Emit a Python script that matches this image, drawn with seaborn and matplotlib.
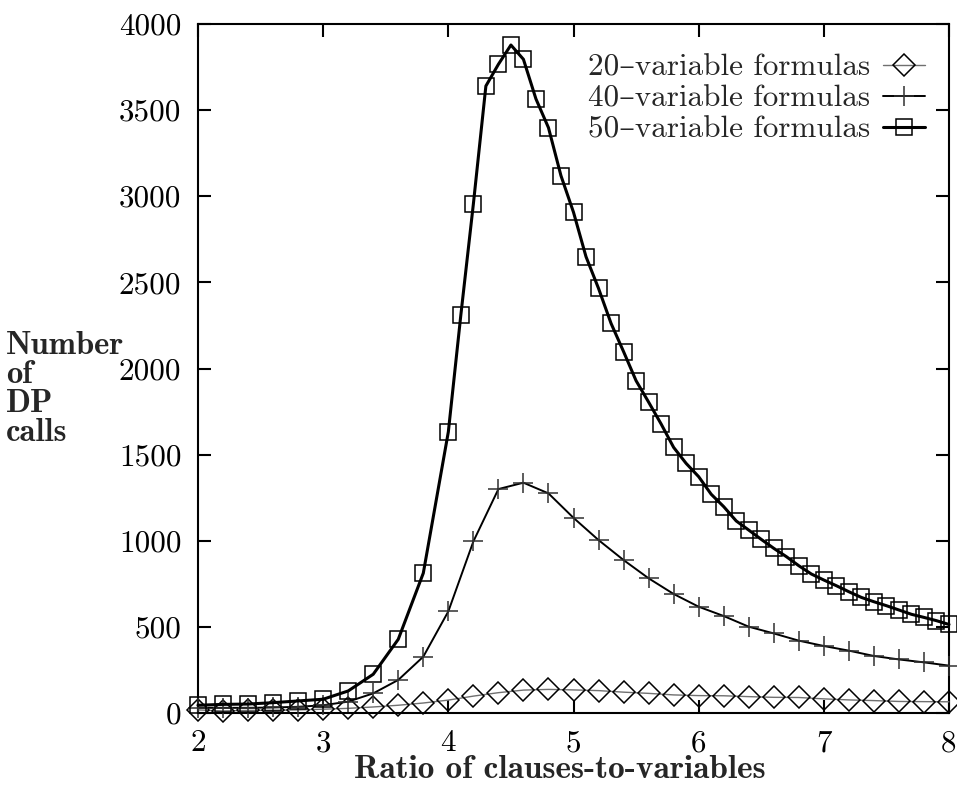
import matplotlib
matplotlib.use("Agg")
import matplotlib.pyplot as plt
import seaborn as sns
import pandas as pd

# ---- data ----
x_step02 = [2.0, 2.2, 2.4, 2.6, 2.8, 3.0, 3.2, 3.4, 3.6, 3.8, 4.0, 4.2, 4.4, 4.6, 4.8,
            5.0, 5.2, 5.4, 5.6, 5.8, 6.0, 6.2, 6.4, 6.6, 6.8, 7.0, 7.2, 7.4, 7.6, 7.8, 8.0]
y20 = [18, 12, 15, 16, 18, 22, 27, 35, 45, 58, 75, 98, 118, 133, 137,
       134, 130, 121, 114, 105, 101, 100, 95, 91, 90, 82, 76, 72, 67, 66, 65]
y40 = [30, 30, 30, 32, 36, 45, 66, 114, 192, 327, 590, 996, 1300, 1337, 1275,
       1133, 1004, 888, 782, 691, 617, 563, 501, 462, 420, 389, 362, 331, 311, 294, 275]
x50 = [2.0, 2.2, 2.4, 2.6, 2.8, 3.0, 3.2, 3.4, 3.6, 3.8, 4.0,
       4.1, 4.2, 4.3, 4.4, 4.5, 4.6, 4.7, 4.8, 4.9, 5.0,
       5.1, 5.2, 5.3, 5.4, 5.5, 5.6, 5.7, 5.8, 5.9, 6.0,
       6.1, 6.2, 6.3, 6.4, 6.5, 6.6, 6.7, 6.8, 6.9, 7.0,
       7.1, 7.2, 7.3, 7.4, 7.5, 7.6, 7.7, 7.8, 7.9, 8.0]
y50 = [45, 50, 52, 60, 70, 80, 128, 225, 428, 812, 1632,
       2311, 2955, 3640, 3766, 3878, 3795, 3565, 3398, 3119, 2907,
       2649, 2465, 2262, 2098, 1929, 1805, 1678, 1542, 1449, 1372,
       1270, 1198, 1115, 1062, 1008, 956, 908, 855, 807, 772,
       739, 704, 671, 646, 623, 598, 573, 555, 536, 514]
labels = ["20\u2013variable formulas", "40\u2013variable formulas", "50\u2013variable formulas"]
ylabel_text = "Number\nof\nDP\ncalls"
xlabel_text = "Ratio of clauses-to-variables"
xticks = [2, 3, 4, 5, 6, 7, 8]
yticks = [0, 500, 1000, 1500, 2000, 2500, 3000, 3500, 4000]

sns.set_style("ticks")
plt.rcParams["font.family"] = ["cmr10", "DejaVu Serif"]
plt.rcParams["axes.formatter.use_mathtext"] = True
plt.rcParams["axes.unicode_minus"] = False

W, H = 957, 786
fs = 22.4
fig = plt.figure(figsize=(W / 100, H / 100), dpi=100)
ax = fig.add_axes([198 / W, 73 / H, 751 / W, 689 / H])

df20 = pd.DataFrame({"x": x_step02, "y": y20})
df40 = pd.DataFrame({"x": x_step02, "y": y40})
df50 = pd.DataFrame({"x": x50, "y": y50})

sns.lineplot(data=df20, x="x", y="y", ax=ax, color="#707070", linewidth=1.0,
             marker="D", markersize=11.5, markerfacecolor="none",
             markeredgecolor="black", markeredgewidth=1.1, clip_on=False,
             label=labels[0], zorder=3)
sns.lineplot(data=df40, x="x", y="y", ax=ax, color="black", linewidth=1.4,
             marker="+", markersize=14, markeredgecolor="#303030",
             markeredgewidth=1.1, clip_on=False, label=labels[1], zorder=4)
sns.lineplot(data=df50, x="x", y="y", ax=ax, color="black", linewidth=2.2,
             marker="s", markersize=11.5, markerfacecolor="none",
             markeredgecolor="black", markeredgewidth=1.1, clip_on=False,
             label=labels[2], zorder=5)

ax.set_xlim(2, 8)
ax.set_ylim(0, 4000)
ax.set_xticks(xticks)
ax.set_yticks(yticks)
ax.set_xticklabels([str(t) for t in xticks])
ax.set_yticklabels([str(t) for t in yticks])
ax.tick_params(axis="both", which="both", direction="in", length=9.4, width=1.5,
               top=True, right=True, labelsize=fs, colors="black")
ax.tick_params(axis="x", pad=12)
ax.tick_params(axis="y", pad=12)
for sp in ax.spines.values():
    sp.set_visible(True)
    sp.set_linewidth(1.5)
    sp.set_color("black")

ax.set_xlabel(xlabel_text, fontsize=24.0, family=["cmb10", "DejaVu Serif"],
              va="baseline")
ax.xaxis.set_label_coords((560 - 198) / 751, (713 - 778) / 689)

ax.set_ylabel(ylabel_text, fontsize=23.5, family=["cmb10", "DejaVu Serif"],
              rotation=0, ha="left", va="center", linespacing=1.01)
ax.yaxis.set_label_coords((6 - 198) / 751, (713 - 389) / 689)

leg = ax.legend(loc="upper right", bbox_to_anchor=((925 - 198) / 751, (713 - 54) / 689),
                frameon=False, markerfirst=False, fontsize=fs, handlelength=1.35,
                handletextpad=0.4, labelspacing=0.1, borderpad=0, borderaxespad=0,
                numpoints=1)

fig.savefig("out.png", dpi=100)
